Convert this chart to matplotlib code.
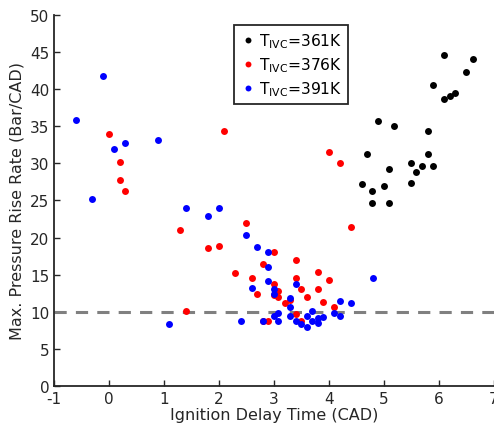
import matplotlib
matplotlib.use('Agg')
import matplotlib.pyplot as plt

plt.rcParams['axes.unicode_minus'] = False

# T_IVC = 361K
x_361 = [6.10, 6.61, 6.50, 5.89, 6.10, 6.20, 6.30, 4.90, 5.19, 5.80, 4.69, 5.80,
         5.49, 5.70, 5.89, 5.09, 5.59, 4.60, 5.00, 5.49, 4.79, 4.79, 5.09]
y_361 = [44.6, 44.0, 42.3, 40.5, 38.7, 39.1, 39.5, 35.7, 35.1, 34.4, 31.3, 31.2,
         30.0, 29.6, 29.6, 29.3, 28.9, 27.2, 27.0, 27.3, 26.3, 24.7, 24.7]

# T_IVC = 376K
x_376 = [0.0, 2.1, 0.2, 0.2, 0.3, 2.5, 1.3, 1.8, 2.0, 3.0, 2.8, 2.3, 2.6, 3.0,
         2.7, 3.0, 3.08, 3.08, 1.4, 2.8, 2.9, 3.4, 3.8, 3.4, 4.0, 3.5, 3.8, 3.6,
         3.3, 3.2, 3.9, 3.4, 3.5, 4.1, 4.4, 4.0, 4.2]
y_376 = [33.9, 34.3, 30.2, 27.7, 26.3, 22.0, 21.0, 18.6, 18.9, 18.1, 16.4, 15.2,
         14.5, 13.7, 12.4, 12.2, 12.8, 12.0, 10.1, 8.7, 8.8, 17.0, 15.3, 14.6,
         14.3, 13.1, 13.1, 12.0, 11.6, 11.2, 11.3, 9.65, 8.7, 10.7, 21.4, 31.6, 30.0]

# T_IVC = 391K
x_391 = [-0.1, -0.6, 0.3, 0.1, 0.9, -0.3, 1.4, 1.8, 2.0, 2.5, 2.7, 2.9, 2.9, 2.9,
         2.6, 3.0, 3.0, 1.1, 2.4, 2.8, 3.0, 3.08, 3.08, 3.4, 3.3, 3.3, 3.3, 3.6,
         3.7, 3.9, 3.8, 3.4, 3.5, 3.6, 3.7, 3.8, 4.2, 4.4, 4.1, 4.2, 4.8]
y_391 = [41.8, 35.8, 32.7, 32.0, 33.1, 25.2, 24.0, 22.9, 24.0, 20.4, 18.7, 18.0,
         16.1, 14.2, 13.2, 13.1, 12.4, 8.4, 8.8, 8.8, 9.4, 9.9, 8.8, 13.7, 11.9,
         10.6, 9.5, 9.5, 10.1, 9.3, 9.1, 8.7, 8.3, 8.0, 8.8, 8.45, 11.5, 11.2,
         9.9, 9.5, 14.6]

limit = 10
dark = '#262626'

fig = plt.figure(figsize=(4.94, 4.31), dpi=100)
ax = fig.add_axes([0.1093, 0.102, 0.8907, 0.861])

# reference line
ax.plot([-1, 7], [limit, limit], '--', color='#808080', lw=2.2, dashes=(4, 3))

ax.plot(x_361, y_361, 'o', color='k', ms=5, mec='none', label=r'T$_{\mathrm{IVC}}$=361K')
ax.plot(x_376, y_376, 'o', color='#ff0000', ms=5, mec='none', label=r'T$_{\mathrm{IVC}}$=376K')
ax.plot(x_391, y_391, 'o', color='#0000ff', ms=5, mec='none', label=r'T$_{\mathrm{IVC}}$=391K')

ax.set_xlim(-1, 7)
ax.set_ylim(0, 50)
ax.set_xticks(range(-1, 8))
ax.set_yticks(range(0, 51, 5))

for s in ['top', 'right']:
    ax.spines[s].set_visible(False)
for s in ['left', 'bottom']:
    ax.spines[s].set_color(dark)
    ax.spines[s].set_linewidth(1.3)
ax.tick_params(direction='in', length=4, width=1, colors=dark, labelsize=11)

ax.set_xlabel('Ignition Delay Time (CAD)', fontsize=11.5, color=dark, labelpad=1)
ax.set_ylabel('Max. Pressure Rise Rate (Bar/CAD)', fontsize=11.5, color=dark, labelpad=4)

leg = ax.legend(loc='upper left', bbox_to_anchor=(0.409, 0.973), borderaxespad=0,
                fontsize=11.2, handletextpad=0.2, handlelength=1.0, borderpad=0.4,
                labelspacing=0.35, fancybox=False, framealpha=1, markerscale=0.85)
leg.get_frame().set_edgecolor(dark)
leg.get_frame().set_linewidth(1.3)

fig.savefig('out.png', dpi=100)
